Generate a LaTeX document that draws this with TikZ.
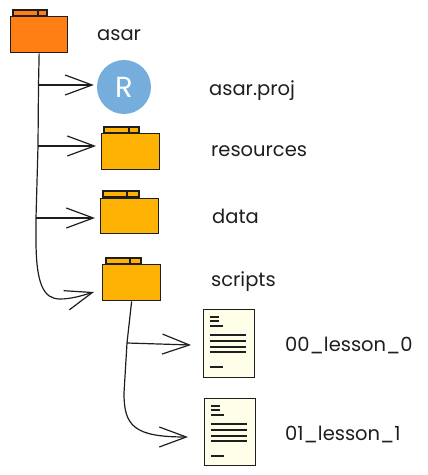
\documentclass[tikz,border=0pt]{standalone}
\usepackage{fontspec}
\setmainfont{Poppins}
\usetikzlibrary{arrows.meta}
\definecolor{rootorange}{HTML}{FF7F14}
\definecolor{folderamber}{HTML}{FDB204}
\definecolor{rblue}{HTML}{75ADDD}
\definecolor{docyellow}{HTML}{FFFEE8}
\definecolor{ink}{HTML}{1E1E1E}
\tikzset{
  x=1pt,y=-1pt,
  ink line/.style={draw=ink,line width=1.3pt},
  folderbody/.style={ink line,rectangle,inner sep=0pt,minimum width=58pt,minimum height=36pt,anchor=north west},
  foldertab/.style={ink line,line width=1.1pt},
  docbox/.style={ink line,fill=docyellow,rectangle,inner sep=0pt,minimum width=51pt,minimum height=68pt,anchor=north west},
  docline/.style={draw=ink,line width=1.2pt},
  label/.style={anchor=west,inner sep=0pt,text=ink,font=\fontsize{19.5}{21}\selectfont},
  conn/.style={draw=ink,line width=1.2pt},
  arr/.style={conn,-{Straight Barb[length=27pt,width=20pt,line width=1.2pt]},shorten >=0pt},
}
\newcommand{\foldertabat}[5]{% x1 y1 x2 divider colour
  \draw[foldertab,fill=#5] (#1,#2+6) -- (#1,#2) -- (#3,#2) -- (#3,#2+6) -- cycle;
  \draw[foldertab] (#4,#2) -- (#4,#2+6);
}
\newcommand{\doclines}[2]{% x y offset of the first short line
  \foreach \a/\b/\w in {0/0/9,0/4/9,0/9/13,0/18/36,0/24/36,0/30/36,0/35/36,0/50/13}
    \draw[docline] (#1+\a,#2+\b) -- ++(\w,0);
}
\begin{document}
\begin{tikzpicture}
\useasboundingbox (0,0) rectangle (428,475);
% folders
\foldertabat{13}{10}{47}{38}{rootorange}
\node[folderbody,fill=rootorange,minimum width=57pt] (root) at (10,16) {};
\foldertabat{104}{127}{139}{129}{folderamber}
\node[folderbody,fill=folderamber] (resources) at (101,133) {};
\foldertabat{103}{191}{139}{127}{folderamber}
\node[folderbody,fill=folderamber,minimum height=35pt] (data) at (100,198) {};
\foldertabat{106}{258}{141}{130}{folderamber}
\node[folderbody,fill=folderamber] (scripts) at (102,264) {};
% R badge
\node[circle,fill=rblue,minimum size=54pt,inner sep=0pt,text=white,font=\fontsize{29}{30}\selectfont] (proj) at (124,87) {R};
% documents
\node[docbox] (doc0) at (203,309) {};
\doclines{210}{317}
\node[docbox,minimum height=67pt] (doc1) at (204,398) {};
\doclines{211}{406}
% labels
\node[label] (lroot) at (97,35) {asar};
\node[label] (lproj) at (209,91) {asar.proj};
\node[label] (lres) at (211,151) {resources};
\node[label] (ldata) at (212,216) {data};
\node[label] (lscr) at (211,282) {scripts};
\node[label] (ldoc0) at (285,345) {00\_lesson\_0};
\node[label] (ldoc1) at (285,434) {01\_lesson\_1};
% junctions on the trunks
\coordinate (j1) at (38.5,85);
\coordinate (j2) at (38,146);
\coordinate (j3) at (36,218);
\coordinate (k1) at (127,343);
% arrow ends, a little short of each target
\coordinate (t1) at ([xshift=-3pt]proj.west |- j1);
\coordinate (t2) at ([xshift=-5pt]resources.west |- j2);
\coordinate (t3) at ([xshift=-5pt]data.west |- j3);
\coordinate (t4) at (94,292);
\coordinate (t5) at (191,345);
\coordinate (t6) at (188,437);
% trunks
\draw[arr] (root.south) -- (j1) -- (j2) -- (j3) -- (36,240) .. controls (36,285) and (44,299) .. (60,299) .. controls (72,299) and (84,295) .. (t4);
\draw[arr] (scripts.south) -- (k1) -- (124,393) .. controls (124,426) and (134,437) .. (t6);
% branches
\draw[arr] (j1) -- (t1);
\draw[arr] (j2) -- (t2);
\draw[arr] (j3) -- (t3);
\draw[arr] (k1) -- (t5);
\end{tikzpicture}
\end{document}
